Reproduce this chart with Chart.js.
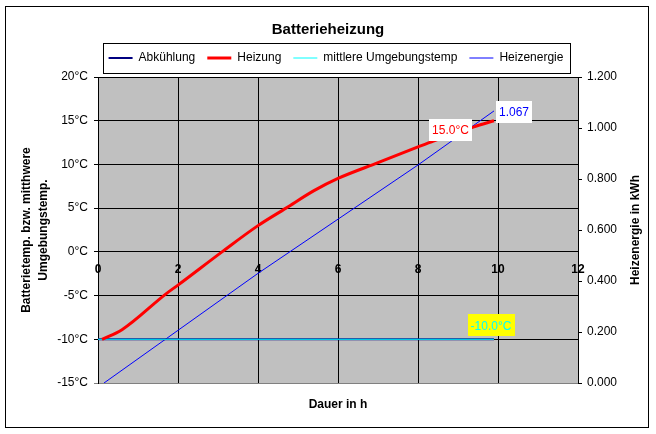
<!DOCTYPE html>
<html>
<head>
<meta charset="utf-8">
<title>Batterieheizung</title>
<script src="https://cdn.jsdelivr.net/npm/chart.js@4.4.1/dist/chart.umd.min.js"></script>
<style>
  html, body { margin: 0; padding: 0; background: #fff; }
  #wrap { width: 656px; height: 434px; }
</style>
</head>
<body>
<div id="wrap"><canvas id="chart" width="656" height="434"></canvas></div>
<script>
// Werte (Dauer in h / Temperatur in °C / Energie in kWh)
const abkuehlungH = [0, 9.9];
const abkuehlungT = [-10, -10];
const heizungH = [0.1, 0.6, 1.7, 2, 3.1, 4, 4.7, 5.4, 6, 7, 8, 8.4, 9.4, 9.9];
const heizungT = [-10, -8.9, -4.8, -3.8, 0, 3.0, 5.0, 7.0, 8.4, 10.2, 12.0, 12.7, 14.3, 15.0];
const umgebungH = [0, 9.9];
const umgebungT = [-10, -10];
const energieH = [0.15, 4, 8, 9.9];
const energieKWh = [0, 0.43, 0.855, 1.067];

// Achsen
const dauerMin = 0, dauerMax = 12, dauerStep = 2;
const tempMin = -15, tempMax = 20, tempStep = 5;
const energieMin = 0, energieMax = 1.2, energieStep = 0.2;

const FONT = '"Liberation Sans", Arial, sans-serif';
Chart.defaults.font.family = FONT;
Chart.defaults.color = '#000';

const toPoints = (xs, ys) => xs.map((x, i) => ({ x: x, y: ys[i] }));

// grauer Plotbereich, Rahmen, Legendenrahmen, rechte Achsenbeschriftung
const hintergrund = {
  id: 'hintergrund',
  afterLayout(chart) {
    // Legende etwas nach rechts/oben wie im Original
    const lg = chart.legend;
    lg.left += 8; lg.right += 8;
    lg.top -= 3; lg.bottom -= 3;
  },
  beforeDraw(chart) {
    const { ctx, chartArea: a } = chart;
    ctx.save();
    ctx.fillStyle = '#fff';
    ctx.fillRect(0, 0, chart.width, chart.height);
    ctx.fillStyle = '#c0c0c0';
    ctx.fillRect(a.left, a.top, a.right - a.left, a.bottom - a.top);
    ctx.restore();
  },
  afterDraw(chart) {
    const { ctx, chartArea: a } = chart;
    ctx.save();
    ctx.strokeStyle = '#000';
    ctx.lineWidth = 1;
    ctx.strokeRect(5.5, 6.5, 643, 421);

    const boxes = chart.legend.legendHitBoxes;
    if (boxes && boxes.length) {
      const first = boxes[0], last = boxes[boxes.length - 1];
      const cy = first.top + first.height / 2;
      const l = Math.round(first.left - 6) + 0.5;
      const r = Math.round(last.left + last.width + 7) + 0.5;
      ctx.strokeRect(l, Math.round(cy - 15) + 0.5, r - l, 30);
    }

    ctx.translate(636, (a.top + a.bottom) / 2);
    ctx.rotate(-Math.PI / 2);
    ctx.font = 'bold 12px ' + FONT;
    ctx.textAlign = 'center';
    ctx.textBaseline = 'middle';
    ctx.fillStyle = '#000';
    ctx.fillText('Heizenergie in kWh', 0, 0);
    ctx.restore();
  }
};

// Beschriftung am letzten Punkt
const endLabels = [
  { ds: 1, text: heizungT[heizungT.length - 1].toFixed(1) + '°C', color: '#ff0000', bg: '#ffffff', side: 'left', dx: -22, dy: 9 },
  { ds: 2, text: umgebungT[umgebungT.length - 1].toFixed(1) + '°C', color: '#00ffff', bg: '#ffff00', side: 'above', dx: -3, dy: -3 },
  { ds: 3, text: energieKWh[energieKWh.length - 1].toFixed(3), color: '#0000ff', bg: '#ffffff', side: 'right', dx: 2, dy: 1 }
];

const wertLabels = {
  id: 'wertLabels',
  afterDatasetsDraw(chart) {
    const ctx = chart.ctx;
    ctx.save();
    ctx.font = '12px ' + FONT;
    ctx.textAlign = 'center';
    ctx.textBaseline = 'middle';
    endLabels.forEach(lb => {
      const pts = chart.getDatasetMeta(lb.ds).data;
      const p = pts[pts.length - 1];
      const w = Math.round(ctx.measureText(lb.text).width + 6);
      const h = 22;
      let cx, cy;
      if (lb.side === 'left') { cx = p.x + lb.dx - w / 2; cy = p.y + lb.dy; }
      else if (lb.side === 'right') { cx = p.x + lb.dx + w / 2; cy = p.y + lb.dy; }
      else { cx = p.x + lb.dx; cy = p.y + lb.dy - h / 2; }
      ctx.fillStyle = lb.bg;
      ctx.fillRect(Math.round(cx - w / 2), Math.round(cy - h / 2), w, h);
      ctx.fillStyle = lb.color;
      ctx.fillText(lb.text, cx, cy + 1);
    });
    ctx.restore();
  }
};

new Chart(document.getElementById('chart'), {
  type: 'line',
  data: {
    datasets: [
      {
        label: 'Abkühlung',
        data: toPoints(abkuehlungH, abkuehlungT),
        borderColor: '#000080', backgroundColor: '#000080',
        borderWidth: 2, pointRadius: 0, order: 3,
        xAxisID: 'x', yAxisID: 'y'
      },
      {
        label: 'Heizung',
        data: toPoints(heizungH, heizungT),
        borderColor: '#ff0000', backgroundColor: '#ff0000',
        borderWidth: 3, pointRadius: 0, order: 1,
        cubicInterpolationMode: 'monotone',
        xAxisID: 'x', yAxisID: 'y'
      },
      {
        label: 'mittlere Umgebungstemp',
        data: toPoints(umgebungH, umgebungT),
        borderColor: '#00ffff', backgroundColor: '#00ffff',
        borderWidth: 1, pointRadius: 0, order: 2,
        xAxisID: 'x', yAxisID: 'y'
      },
      {
        label: 'Heizenergie',
        data: toPoints(energieH, energieKWh),
        borderColor: '#0000ff', backgroundColor: '#0000ff',
        borderWidth: 1, pointRadius: 0, order: 4,
        xAxisID: 'x', yAxisID: 'y1'
      }
    ]
  },
  options: {
    responsive: false,
    animation: false,
    devicePixelRatio: 1,
    layout: { padding: 0 },
    plugins: {
      title: {
        display: true,
        text: 'Batterieheizung',
        color: '#000',
        font: { size: 15, weight: 'bold', lineHeight: 1.2 },
        padding: { top: 21, bottom: 4 }
      },
      legend: {
        display: true,
        position: 'top',
        labels: {
          usePointStyle: true,
          pointStyle: 'line',
          pointStyleWidth: 24,
          padding: 12,
          color: '#000',
          font: { size: 12 },
          sort: (a, b) => a.datasetIndex - b.datasetIndex
        }
      },
      tooltip: { enabled: false }
    },
    scales: {
      x: {
        type: 'linear',
        position: 'bottom',
        min: dauerMin, max: dauerMax,
        ticks: { display: false, stepSize: dauerStep },
        grid: { color: '#000', drawTicks: false },
        border: { color: '#808080' },
        title: {
          display: true,
          text: 'Dauer in h',
          color: '#000',
          font: { size: 12, weight: 'bold' },
          padding: { top: 0, bottom: 22 }
        },
        afterFit: s => { s.height = 51; }
      },
      x2: {
        type: 'linear',
        axis: 'x',
        position: { y: 0 },
        min: dauerMin, max: dauerMax,
        ticks: { stepSize: dauerStep, color: '#000', font: { size: 12, weight: 'bold' }, padding: 11, maxRotation: 0 },
        grid: { display: false, drawTicks: false },
        border: { display: false }
      },
      y: {
        type: 'linear',
        position: 'left',
        min: tempMin, max: tempMax,
        ticks: { stepSize: tempStep, color: '#000', font: { size: 12 }, padding: 6, callback: v => v + '°C' },
        grid: { color: c => (c.tick && c.tick.value === tempMin) ? '#808080' : '#000', tickLength: 4 },
        border: { color: '#000' },
        title: {
          display: true,
          text: ['Batterietemp. bzw. mitthwere', 'Umgebungstemp.'],
          color: '#000',
          font: { size: 12, weight: 'bold', lineHeight: 1.35 },
          padding: { top: 19, bottom: 0 }
        },
        afterFit: s => { s.width = 98; }
      },
      y1: {
        type: 'linear',
        position: 'right',
        min: energieMin, max: energieMax,
        ticks: { stepSize: energieStep, color: '#000', font: { size: 12 }, padding: 5, callback: v => v.toFixed(3) },
        grid: { drawOnChartArea: false, color: '#000', tickLength: 4 },
        border: { color: '#000' },
        afterFit: s => { s.width = 78; }
      }
    }
  },
  plugins: [hintergrund, wertLabels]
});
</script>
</body>
</html>
